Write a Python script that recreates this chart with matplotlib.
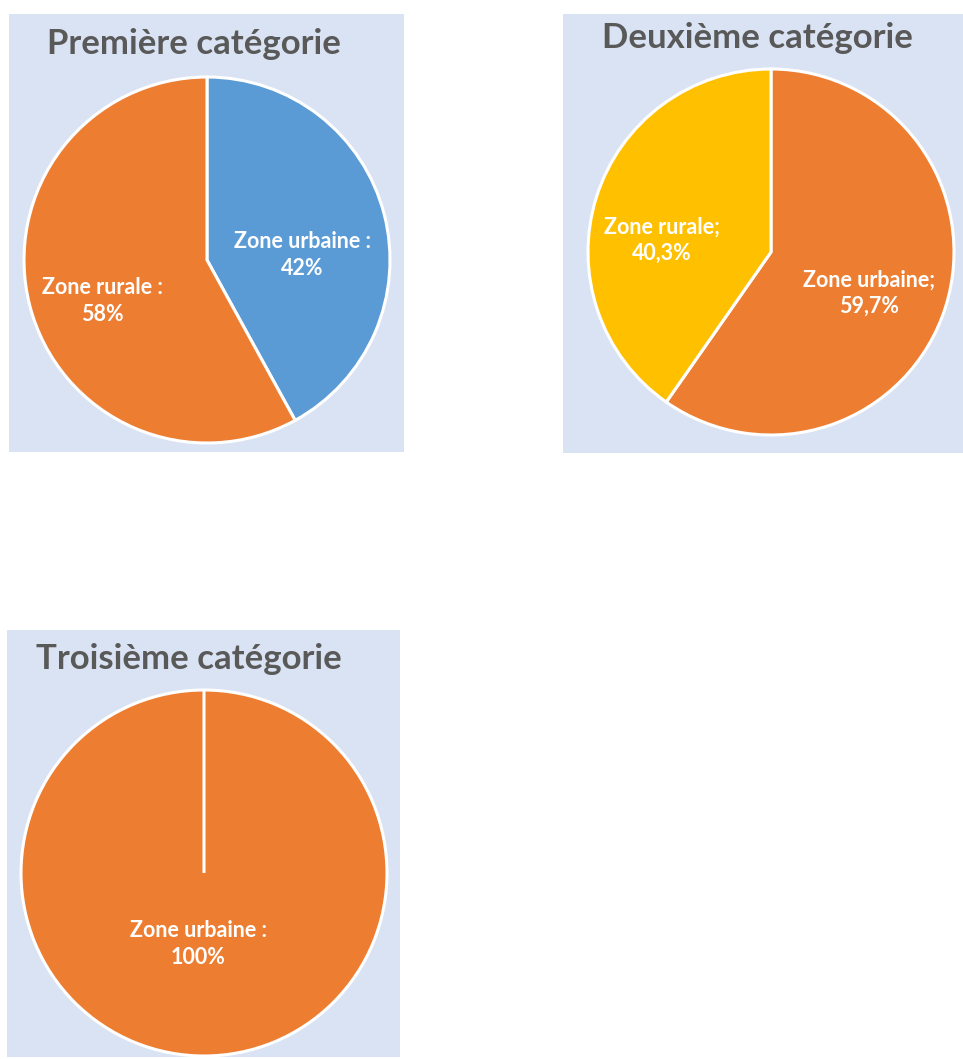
import matplotlib
matplotlib.use("Agg")
import matplotlib.pyplot as plt

W, H = 963, 1059

titles = ["Première catégorie", "Deuxième catégorie", "Troisième catégorie"]
slice_names = [["Zone urbaine", "Zone rurale"],
               ["Zone urbaine", "Zone rurale"],
               ["Zone urbaine", "Zone rurale"]]
values = [[42, 58], [59.7, 40.3], [100, 0]]
label_texts = [["Zone urbaine :\n42%", "Zone rurale :\n58%"],
               ["Zone urbaine;\n59,7%", "Zone rurale;\n40,3%"],
               ["Zone urbaine :\n100%", ""]]
colors = [["#5B9BD5", "#ED7D31"],
          ["#ED7D31", "#FFC000"],
          ["#ED7D31", "#ED7D31"]]

# layout (pixels)
panels = [(9, 14, 404, 452), (563, 14, 963, 453), (7, 630, 400, 1057)]
pie_centers = [(207, 260), (771, 252), (204, 873)]
pie_radius = 183
title_pos = [(194, 44), (757, 38), (189, 659)]
label_pos = [[(302, 255), (102, 301)],
             [(869, 293), (662, 240)],
             [(198, 944), None]]

BG = "#DAE3F3"
FONT = ["Lato", "DejaVu Sans"]

fig = plt.figure(figsize=(W / 100, H / 100), dpi=100)
fig.patch.set_facecolor("white")

for i in range(3):
    x0, y0, x1, y1 = panels[i]
    ax = fig.add_axes([x0 / W, 1 - y1 / H, (x1 - x0) / W, (y1 - y0) / H])
    ax.set_facecolor(BG)
    cx, cy = pie_centers[i]
    ax.pie(values[i], colors=colors[i], startangle=90, counterclock=False,
           center=(cx, H - cy), radius=pie_radius, frame=True,
           wedgeprops=dict(edgecolor="white", linewidth=2.2))
    ax.set_xlim(x0, x1)
    ax.set_ylim(H - y1, H - y0)
    ax.set_aspect("auto")
    ax.set_xticks([])
    ax.set_yticks([])
    for s in ax.spines.values():
        s.set_visible(False)
    tx, ty = title_pos[i]
    ax.text(tx, H - ty, titles[i], ha="center", va="center", fontsize=25,
            fontweight="bold", color="#595959", family=FONT)
    for j, lbl in enumerate(label_texts[i]):
        if label_pos[i][j] is None or not lbl:
            continue
        lx, ly = label_pos[i][j]
        ax.text(lx, H - ly, lbl, ha="center", va="center", fontsize=15.5,
                fontweight="bold", color="white", family=FONT,
                linespacing=1.3)

fig.savefig("out.png", dpi=100, facecolor="white")
